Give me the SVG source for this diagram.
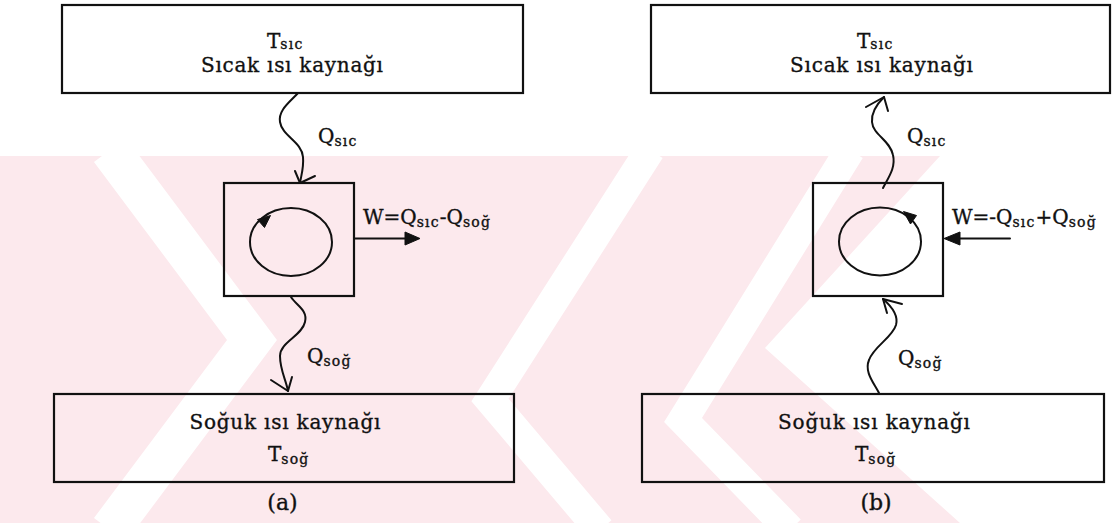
<svg xmlns="http://www.w3.org/2000/svg" width="1113" height="523" viewBox="0 0 1113 523">
  <style>
    .box { fill: none; stroke: #111; stroke-width: 2.2; }
    .wire { fill: none; stroke: #111; stroke-width: 2; stroke-linecap: round; stroke-linejoin: round; }
    .head { fill: #111; stroke: #111; stroke-width: 1; stroke-linejoin: round; }
    text { font-family: "DejaVu Serif", "Liberation Serif", serif; font-size: 20px; fill: #111; stroke: #111; stroke-width: 0.35; }
    .mid { text-anchor: middle; }
    .sub { font-size: 14px; letter-spacing: 1.2px; }
    .cap { font-size: 22px; }
    .wm { fill: #fce9ed; }
    .wmgap { fill: none; stroke: #ffffff; stroke-linecap: butt; stroke-linejoin: miter; }
  </style>

  <rect width="1113" height="523" fill="#ffffff"/>

  <!-- faint background mark -->
  <g id="watermark">
    <path class="wm" d="M0,156 H940 L765,348 L960,523 H0 Z"/>
    <polyline class="wmgap" stroke-width="40" points="110,150 252,340 110,530"/>
    <polyline class="wmgap" stroke-width="30" points="650,150 490,400 600,530"/>
    <polyline class="wmgap" stroke-width="30" points="850,150 683,420 790,530"/>
  </g>

  <!-- panel (a): heat engine -->
  <g id="a-hot">
    <rect class="box" x="62" y="5" width="461" height="88"/>
    <text x="267" y="48">T<tspan class="sub" dy="1">sıc</tspan></text>
    <text class="mid" x="292" y="72" textLength="182">Sıcak ısı kaynağı</text>
  </g>
  <g id="a-engine">
    <rect class="box" x="224" y="183" width="130" height="113"/>
    <ellipse class="wire" cx="291" cy="242" rx="41" ry="34"/>
    <polygon class="head" points="270.5,215.5 264.5,227.5 257.5,219.5"/>
  </g>
  <g id="a-cold">
    <rect class="box" x="54" y="394" width="460" height="88"/>
    <text class="mid" x="285" y="429" textLength="191">Soğuk ısı kaynağı</text>
    <text x="268" y="461">T<tspan class="sub" dy="3">soğ</tspan></text>
  </g>
  <text id="a-caption" class="mid cap" x="282.5" y="510">(a)</text>

  <!-- panel (b): refrigerator -->
  <g id="b-hot">
    <rect class="box" x="651" y="5" width="459" height="88"/>
    <text x="857" y="48">T<tspan class="sub" dy="1">sıc</tspan></text>
    <text class="mid" x="881.5" y="72" textLength="183">Sıcak ısı kaynağı</text>
  </g>
  <g id="b-engine">
    <rect class="box" x="813" y="183" width="130" height="113"/>
    <ellipse class="wire" cx="880" cy="241.5" rx="41" ry="34"/>
    <polygon class="head" points="903.5,211.5 916.5,215.5 910.5,224"/>
  </g>
  <g id="b-cold">
    <rect class="box" x="642" y="394" width="462" height="88"/>
    <text class="mid" x="874" y="429" textLength="192">Soğuk ısı kaynağı</text>
    <text x="855" y="461">T<tspan class="sub" dy="3">soğ</tspan></text>
  </g>
  <text id="b-caption" class="mid cap" x="876" y="510">(b)</text>

  <!-- heat and work flows -->
  <g id="connectors">
    <!-- (a) Q_sic: hot reservoir to engine -->
    <path class="wire" d="M298,93 C290,102 278,110 280,122 C282,136 302,142 303,157 C304,168 301,176 300,183"/>
    <polyline class="wire" points="295,171 300,183 315,176"/>
    <!-- (a) Q_sog: engine to cold reservoir -->
    <path class="wire" d="M291,297 C296,305 308,310 305,322 C302,336 280,342 280,356 C280,370 286,380 288,391"/>
    <polyline class="wire" points="271,380 288,391 292,377"/>
    <!-- (a) W out -->
    <line class="wire" x1="355" y1="238.5" x2="407" y2="238.5"/>
    <polygon class="head" points="420,238.5 405,232 405,245"/>

    <!-- (b) Q_sic: engine to hot reservoir -->
    <path class="wire" d="M883,188 C888,178 896,168 893,155 C890,140 873,135 872,122 C871,112 878,103 884,97"/>
    <polyline class="wire" points="866,107 884,97 888,111"/>
    <!-- (b) Q_sog: cold reservoir to engine -->
    <path class="wire" d="M879,393 C874,383 864,372 869,360 C874,346 892,338 896,325 C899,314 890,305 883,299"/>
    <polyline class="wire" points="902,304 883,299 887,313"/>
    <!-- (b) W in -->
    <line class="wire" x1="1010" y1="238.5" x2="958" y2="238.5"/>
    <polygon class="head" points="944,238.5 960,232 960,245"/>
  </g>

  <!-- flow labels -->
  <g id="labels">
    <text x="318" y="143">Q<tspan class="sub" dy="3">sıc</tspan></text>
    <text x="307" y="363">Q<tspan class="sub" dy="3">soğ</tspan></text>
    <text x="363" y="224">W=Q<tspan class="sub" dy="3">sıc</tspan><tspan dy="-3">-Q</tspan><tspan class="sub" dy="3">soğ</tspan></text>
    <text x="907" y="143">Q<tspan class="sub" dy="3">sıc</tspan></text>
    <text x="898" y="365">Q<tspan class="sub" dy="3">soğ</tspan></text>
    <text x="952" y="223.5">W=-Q<tspan class="sub" dy="3">sıc</tspan><tspan dy="-3">+Q</tspan><tspan class="sub" dy="3">soğ</tspan></text>
  </g>
</svg>
